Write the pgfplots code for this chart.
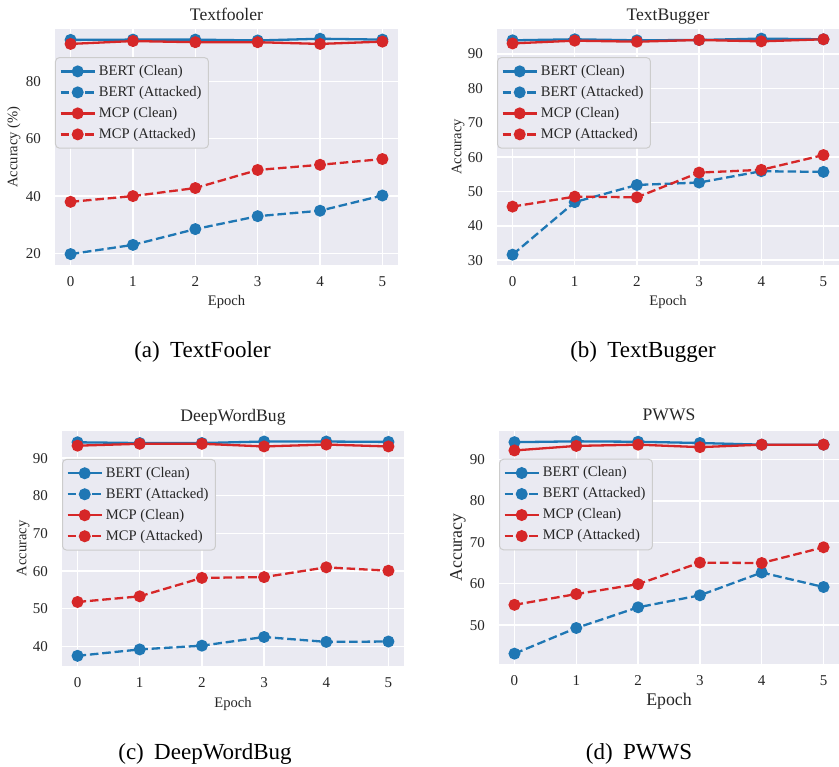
\documentclass[border=0pt]{standalone}
\usepackage{fontspec}
\setmainfont{Liberation Serif}
\usepackage{pgfplots}
\pgfplotsset{compat=1.18}
\definecolor{bgc}{HTML}{EAEAF2}
\definecolor{cb}{HTML}{1F77B4}
\definecolor{cr}{HTML}{D62728}
\definecolor{legedge}{HTML}{CCCCCC}
\definecolor{txt}{HTML}{262626}
\pgfplotsset{
 every axis title shift=0pt,
 mystyle/.style={
  scale only axis,
  axis background/.style={fill=bgc},
  axis line style={draw=none},
  grid=major,
  major grid style={white, line width=0.7pt},
  major tick length=0pt,
  xmin=-0.25, xmax=5.25,
  xtick={0,...,5},
  tick label style={font=\fontsize{7.5}{9}\selectfont, text=txt},
  /pgf/number format/assume math mode=true,
  xticklabel style={anchor=base, yshift=-10.8pt},
  yticklabel style={anchor=east, xshift=-3.5pt},
  title style={font=\fontsize{8.8}{10}\selectfont, text=txt, anchor=base},
  label style={font=\fontsize{7.3}{9}\selectfont, text=txt},
  xlabel={Epoch},
  legend style={at={(0,0.881)}, anchor=north west, fill=bgc, draw=legedge,
    rounded corners=2pt, line width=0.5pt, font=\fontsize{7.3}{9}\selectfont,
    text=txt, inner xsep=2pt, inner ysep=2pt, row sep=0.7pt,
    nodes={inner sep=1.5pt, text height=5.3pt, text depth=1.5pt}},
  legend cell align=left,
 },
 bc/.style={cb, solid, line width=1.15pt, mark=*, mark size=2.4pt, mark options={solid}},
 ba/.style={cb, dash pattern=on 4.3pt off 1.9pt, line width=1.15pt, mark=*, mark size=2.4pt, mark options={solid}},
 mc/.style={cr, solid, line width=1.15pt, mark=*, mark size=2.4pt, mark options={solid}},
 ma/.style={cr, dash pattern=on 4.3pt off 1.9pt, line width=1.15pt, mark=*, mark size=2.4pt, mark options={solid}},
}
\begin{document}
\begin{tikzpicture}
\path[use as bounding box] (0,0) rectangle (419.5pt,383pt);

% (a) Textfooler
\begin{axis}[mystyle, at={(27.5pt,250.5pt)}, anchor=south west,
  width=171.5pt, height=118pt, ymin=16, ymax=98.2, ytick={20,40,60,80},
  title={Textfooler}, title style={at={(axis description cs:0.5,1.038)}},
  ylabel={Accuracy (\%)}, ylabel style={at={(axis description cs:-0.1195,0.5)}, anchor=center},
  xlabel style={at={(axis description cs:0.5,-0.1737)}, anchor=base}]
\addplot[bc] coordinates {(0,94.4) (1,94.5) (2,94.5) (3,94.2) (4,94.8) (5,94.5)};
\addplot[ba] coordinates {(0,19.8) (1,23.0) (2,28.5) (3,33.0) (4,34.9) (5,40.2)};
\addplot[mc] coordinates {(0,93.0) (1,94.0) (2,93.6) (3,93.6) (4,93.0) (5,93.8)};
\addplot[ma] coordinates {(0,38.0) (1,40.0) (2,42.8) (3,49.1) (4,50.9) (5,52.9)};
\legend{BERT (Clean), BERT (Attacked), MCP (Clean), MCP (Attacked)}
\end{axis}

% (b) TextBugger
\begin{axis}[mystyle, at={(248.5pt,250.5pt)}, anchor=south west,
  width=171pt, height=118pt, ymin=28.6, ymax=97.3, ytick={30,40,...,90},
  title={TextBugger}, title style={at={(axis description cs:0.5,1.038)}},
  ylabel={Accuracy}, ylabel style={at={(axis description cs:-0.114,0.5)}, anchor=center},
  xlabel style={at={(axis description cs:0.5,-0.1737)}, anchor=base}]
\addplot[bc] coordinates {(0,94.0) (1,94.3) (2,94.0) (3,94.1) (4,94.5) (5,94.3)};
\addplot[ba] coordinates {(0,31.6) (1,46.9) (2,51.9) (3,52.6) (4,55.9) (5,55.7)};
\addplot[mc] coordinates {(0,93.1) (1,93.9) (2,93.6) (3,94.1) (4,93.7) (5,94.3)};
\addplot[ma] coordinates {(0,45.6) (1,48.5) (2,48.3) (3,55.5) (4,56.3) (5,60.6)};
\legend{BERT (Clean), BERT (Attacked), MCP (Clean), MCP (Attacked)}
\end{axis}

% (c) DeepWordBug
\begin{axis}[mystyle, at={(31pt,50pt)}, anchor=south west,
  width=171pt, height=117.5pt, ymin=34.8, ymax=97.2, ytick={40,50,...,90},
  title={DeepWordBug}, title style={at={(axis description cs:0.5,1.040)}},
  ylabel={Accuracy}, ylabel style={at={(axis description cs:-0.114,0.5)}, anchor=center},
  xlabel style={at={(axis description cs:0.5,-0.177)}, anchor=base}]
\addplot[bc] coordinates {(0,94.2) (1,94.0) (2,94.0) (3,94.4) (4,94.4) (5,94.3)};
\addplot[ba] coordinates {(0,37.5) (1,39.2) (2,40.2) (3,42.5) (4,41.2) (5,41.3)};
\addplot[mc] coordinates {(0,93.3) (1,93.8) (2,93.8) (3,93.1) (4,93.6) (5,93.1)};
\addplot[ma] coordinates {(0,51.8) (1,53.3) (2,58.2) (3,58.4) (4,61.0) (5,60.1)};
\legend{BERT (Clean), BERT (Attacked), MCP (Clean), MCP (Attacked)}
\end{axis}

% (d) PWWS
\begin{axis}[mystyle, at={(249.5pt,51pt)}, anchor=south west,
  width=170pt, height=116.5pt, ymin=40.6, ymax=96.9, ytick={50,60,...,90},
  title={PWWS}, title style={at={(axis description cs:0.5,1.043)}},
  label style={font=\fontsize{8.9}{10}\selectfont},
  ylabel={Accuracy}, ylabel style={at={(axis description cs:-0.1206,0.5)}, anchor=center},
  xlabel style={at={(axis description cs:0.5,-0.180)}, anchor=base}]
\addplot[bc] coordinates {(0,94.2) (1,94.4) (2,94.3) (3,94.0) (4,93.6) (5,93.6)};
\addplot[ba] coordinates {(0,43.1) (1,49.3) (2,54.3) (3,57.2) (4,62.7) (5,59.2)};
\addplot[mc] coordinates {(0,92.2) (1,93.3) (2,93.6) (3,93.0) (4,93.6) (5,93.6)};
\addplot[ma] coordinates {(0,54.9) (1,57.5) (2,59.9) (3,65.1) (4,65.0) (5,68.8)};
\legend{BERT (Clean), BERT (Attacked), MCP (Clean), MCP (Attacked)}
\end{axis}

\node[anchor=base, font=\fontsize{11.5}{13}\selectfont] at (101.25pt,204pt) {(a)\hspace{0.45em}TextFooler};
\node[anchor=base, font=\fontsize{11.5}{13}\selectfont] at (321.5pt,204pt) {(b)\hspace{0.45em}TextBugger};
\node[anchor=base, font=\fontsize{11.5}{13}\selectfont] at (102.5pt,3.5pt) {(c)\hspace{0.45em}DeepWordBug};
\node[anchor=base, font=\fontsize{11.5}{13}\selectfont] at (319.5pt,3.5pt) {(d)\hspace{0.45em}PWWS};
\end{tikzpicture}
\end{document}
